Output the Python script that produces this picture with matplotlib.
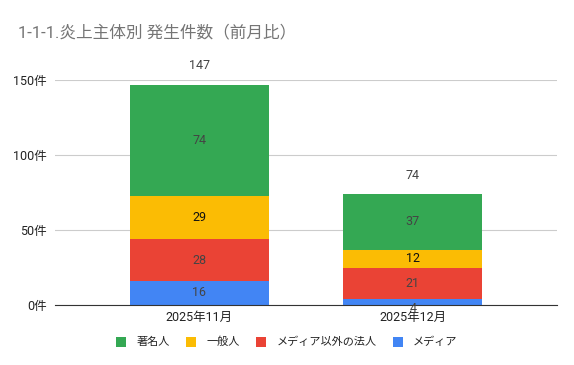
import matplotlib.pyplot as plt
import numpy as np

plt.rcParams['font.family'] = ['Roboto', 'Noto Sans CJK JP', 'DejaVu Sans']

months = ["2025年11月", "2025年12月"]
series_names = ["メディア", "メディア以外の法人", "一般人", "著名人"]
media = [16, 4]
corporate = [28, 21]
general = [29, 12]
famous = [74, 37]
totals = [147, 74]
yticks = [0, 50, 100, 150]
ytick_labels = ["0件", "50件", "100件", "150件"]

colors = ["#4285F4", "#EA4335", "#FBBC04", "#34A853"]
label_colors = ["#444444", "#444444", "#111111", "#444444"]

fig = plt.figure(figsize=(5.74, 3.65), dpi=100)
ax = fig.add_axes([55 / 574, 1 - 305 / 365, 502 / 574, 225 / 365])

x = np.arange(len(months))
bottom = np.zeros(len(months))
bars = []
for vals, c, lc in zip([media, corporate, general, famous], colors, label_colors):
    b = ax.bar(x, vals, width=0.65, bottom=bottom, color=c, zorder=2)
    bars.append(b)
    for xi, v, bt in zip(x, vals, bottom):
        # google charts pushes tiny labels below the baseline
        yy = bt + v / 2 if v >= 8 else -2.5
        ax.text(xi, yy, str(v), ha="center", va="center",
                fontsize=9, color=lc, zorder=5, clip_on=False)
    bottom += np.array(vals)

for xi, t in zip(x, totals):
    ax.text(xi, t + 12.5, str(t), ha="center", va="center", fontsize=9,
            color="#444444", clip_on=False)

ax.set_xlim(-0.676, 1.676)
ax.set_ylim(0, 150)
ax.set_yticks(yticks)
ax.set_yticklabels(ytick_labels)
ax.set_xticks(x)
ax.set_xticklabels(months)
ax.tick_params(axis="both", length=0, labelsize=9, labelcolor="#222222")
ax.tick_params(axis="y", pad=6)
ax.tick_params(axis="x", pad=4)
ax.grid(axis="y", color="#cccccc", linewidth=0.8, zorder=0)
for s in ["top", "right", "left"]:
    ax.spines[s].set_visible(False)
ax.spines["bottom"].set_color("#333333")
ax.spines["bottom"].set_zorder(4)

fig.text(18 / 574, 1 - 32 / 365, "1-1-1.炎上主体別 発生件数（前月比）", fontsize=12,
         color="#757575", va="center", ha="left")

handles = [bars[3], bars[2], bars[1], bars[0]]
labels = ["著名人", "一般人", "メディア以外の法人", "メディア"]
fig.legend(handles, labels, loc="center", bbox_to_anchor=(0.5, 1 - 342 / 365),
           ncol=4, frameon=False, fontsize=8, handlelength=0.9, handleheight=1.0,
           columnspacing=1.5, handletextpad=0.9, labelcolor="#222222")

fig.savefig("out.png", dpi=100, facecolor="white")
